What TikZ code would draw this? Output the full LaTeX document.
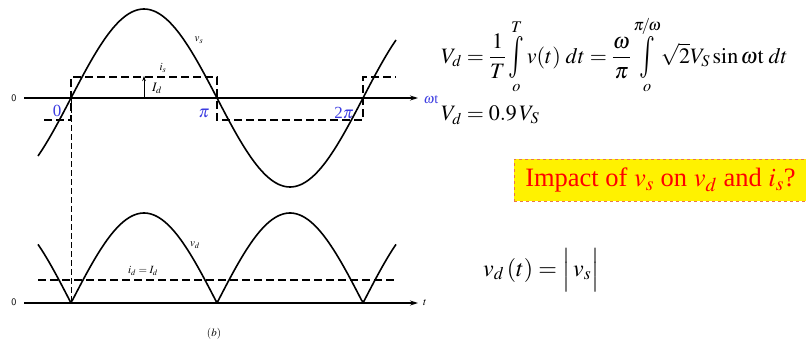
\documentclass[tikz,border=0pt]{standalone}
\usepackage{amsmath}
\usepackage{mathptmx}
\usepackage{fontspec}
\setmainfont{Liberation Serif}
\usetikzlibrary{arrows.meta}
\definecolor{lblblue}{RGB}{60,60,225}
\definecolor{boxedge}{RGB}{235,120,70}
\newcommand{\tallint}{\mathop{\vcenter{\hbox{\scalebox{1.2}[1.9]{$\int$}}}}\limits}
\tikzset{
  wave/.style={line width=1.6pt},
  axisline/.style={line width=1.1pt,-{Stealth[length=8pt,width=5pt]}},
  sqdash/.style={line width=1.6pt,dash pattern=on 8pt off 4pt},
  thindash/.style={line width=0.7pt,dash pattern=on 6pt off 3pt},
  small/.style={font=\fontsize{11}{12}\selectfont},
  blue lbl/.style={text=lblblue,font=\fontsize{17}{18}\selectfont,inner sep=0pt},
  eq/.style={font=\fontsize{22}{24}\selectfont,inner sep=0pt},
}
\begin{document}
\begin{tikzpicture}[x=1pt,y=-1pt]
\useasboundingbox (0,0) rectangle (806,343);
% top axis
\coordinate (a0) at (24,98);
\coordinate (a1) at (418,98);
\draw[axisline] (a0) -- (a1);
\node[font=\fontsize{10}{10}\selectfont\sffamily] (z1) at (14,98) {0};
% vs
\draw[wave] plot[domain=38:396,samples=150] ({\x},{98-89*sin((\x-71)/146*180)});
% is square wave
\coordinate (s0) at (44,120);
\coordinate (s1) at (71,120);
\coordinate (s2) at (71,77);
\coordinate (s3) at (217,77);
\coordinate (s4) at (217,120);
\coordinate (s5) at (363,120);
\coordinate (s6) at (363,77);
\coordinate (s7) at (396,77);
\draw[sqdash] (s0) -- (s1) -- (s2) -- (s3) -- (s4) -- (s5) -- (s6) -- (s7);
% Id arrow
\coordinate (i0) at (144,98);
\coordinate (i1) at (144,76);
\draw[line width=0.8pt,-{Stealth[length=5pt,width=3.5pt]}] (i0) -- (i1);
\node[font=\fontsize{13}{14}\selectfont] (Id) at (157,88) {$I_d$};
\node[small] (is) at (163,68) {$i_s$};
\node[small] (vs) at (199,40) {$v_s$};
% blue labels
\node[blue lbl] (p0) at (57,111) {0};
\node[blue lbl] (p1) at (204,113) {$\pi$};
\node[blue lbl] (p2) at (344,113) {2$\pi$};
\node[text=lblblue,font=\fontsize{14}{15}\selectfont,inner sep=0pt] (wt) at (431,100) {$\omega$t};
% vertical link
\coordinate (v0) at (71,98);
\coordinate (v1) at (71,303);
\draw[thindash] (v0) -- (v1);
% bottom axis
\coordinate (b0) at (24,303);
\coordinate (b1) at (418,303);
\draw[axisline] (b0) -- (b1);
\node[font=\fontsize{10}{10}\selectfont\sffamily] (z2) at (14,302) {0};
\node[small] (tl) at (425,303) {$t$};
\draw[wave] plot[domain=38:396,samples=200] ({\x},{303-90*abs(sin((\x-71)/146*180))});
\coordinate (d0) at (38,280);
\coordinate (d1) at (396,280);
\draw[sqdash] (d0) -- (d1);
\node[small] (id) at (143,271) {$i_d = I_d$};
\node[small] (vd) at (195,245) {$v_d$};
\node[small] (b) at (214,334) {$(b)$};
% equations
\node[eq,anchor=west] (eq1) at (441,55) {$V_d=\dfrac{1}{T}\tallint_{o}^{T} v(t)\;dt=\dfrac{\omega}{\pi}\tallint_{o}^{\pi\!/\!\omega}\!\sqrt{2}V_S\sin\omega\mathrm{t}\;dt$};
\node[eq,anchor=west] (eq2) at (441,115) {$V_d=0.9\,V_S$};
\node[draw=boxedge,dashed,line width=0.9pt,fill=yellow,minimum width=292pt,minimum height=42pt,anchor=north west,inner sep=0pt,text=red,font=\fontsize{26.5}{28}\selectfont] (q) at (514,159) {Impact of $v_s$ on $v_d$ and $i_s$?};
\node[eq,anchor=west,font=\fontsize{24}{26}\selectfont] (eq3) at (483,270) {$v_d\,(t)=\Bigl|\,v_s\Bigr|$};
\end{tikzpicture}
\end{document}
